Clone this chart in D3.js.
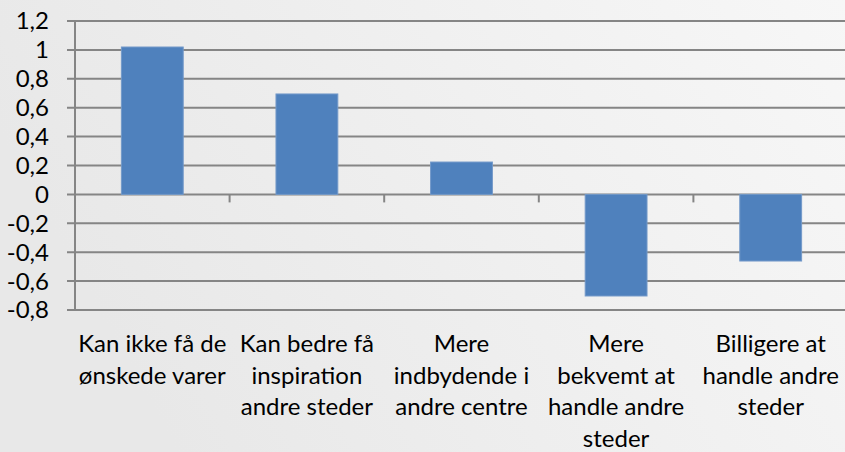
<!DOCTYPE html>
<html><head><meta charset="utf-8">
<script src="https://cdn.jsdelivr.net/npm/d3@7/dist/d3.min.js"></script>
<style>html,body{margin:0;padding:0;overflow:hidden;}svg{display:block;}</style>
</head><body>
<script>
const categories = [
  "Kan ikke få de\nønskede varer",
  "Kan bedre få\ninspiration\nandre steder",
  "Mere\nindbydende i\nandre centre",
  "Mere\nbekvemt at\nhandle andre\nsteder",
  "Billigere at\nhandle andre\nsteder"
];
const values = [1.02, 0.695, 0.224, -0.703, -0.461];
const yTicks = [1.2, 1, 0.8, 0.6, 0.4, 0.2, 0, -0.2, -0.4, -0.6, -0.8];

const W = 845, H = 452;
const m = {left: 75, right: -3, top: 21, bottom: 142};
const svg = d3.select("body").append("svg").attr("width", W).attr("height", H);
const defs = svg.append("defs");
const g = defs.append("linearGradient").attr("id","bg").attr("x1","0").attr("y1","0.3").attr("x2","1").attr("y2","0");
g.append("stop").attr("offset","0").attr("stop-color","#e8e8e8");
g.append("stop").attr("offset","1").attr("stop-color","#f7f7f7");
svg.append("rect").attr("width",W).attr("height",H).attr("fill","url(#bg)");

const font = "Lato, 'Open Sans', sans-serif";
const x = d3.scaleBand().domain(d3.range(categories.length)).range([m.left, W - m.right]).paddingInner(0.6).paddingOuter(0.3);
const xb = d3.scaleBand().domain(d3.range(categories.length)).range([m.left, W - m.right]);
const y = d3.scaleLinear().domain([-0.8, 1.2]).range([H - m.bottom, m.top]);

// gridlines
svg.append("g").selectAll("line").data(yTicks).join("line")
  .attr("x1", m.left - 8).attr("x2", W).attr("y1", d => y(d)).attr("y2", d => y(d))
  .attr("stroke", "#858585").attr("stroke-width", 2);
// y axis line
svg.append("line").attr("x1", m.left).attr("x2", m.left).attr("y1", y(1.2)).attr("y2", y(-0.8))
  .attr("stroke", "#858585").attr("stroke-width", 2);
// y labels
svg.append("g").selectAll("text").data(yTicks).join("text")
  .attr("x", 49).attr("y", d => y(d)).attr("dy", "0.35em").attr("text-anchor","end")
  .attr("font-family", font).attr("font-size", 24).attr("fill","#000")
  .text(d => d3.format("")(d).replace(".", ",").replace("−","-"));

// bars
svg.append("g").selectAll("rect").data(values).join("rect")
  .attr("x", (d,i) => x(i)).attr("width", x.bandwidth())
  .attr("y", d => y(Math.max(0,d))).attr("height", d => Math.abs(y(d) - y(0)))
  .attr("fill", "#4f81bd").attr("stroke","#7399c9").attr("stroke-width",1);

// category ticks on zero line
svg.append("g").selectAll("line").data(d3.range(1, categories.length)).join("line")
  .attr("x1", i => xb(i)).attr("x2", i => xb(i)).attr("y1", y(0)).attr("y2", y(0) + 8)
  .attr("stroke","#858585").attr("stroke-width",2);

// category labels
const lab = svg.append("g").selectAll("text").data(categories).join("text")
  .attr("x", (d,i) => xb(i) + xb.bandwidth()/2).attr("y", 344)
  .attr("text-anchor","middle").attr("font-family", font).attr("font-size", 24).attr("fill","#000");
lab.each(function(d){
  const t = d3.select(this);
  d.split("\n").forEach((l,k) => t.append("tspan").attr("x", t.attr("x")).attr("y", 344 + k*31.5).attr("dy","0.35em").text(l));
});
</script>
</body></html>
